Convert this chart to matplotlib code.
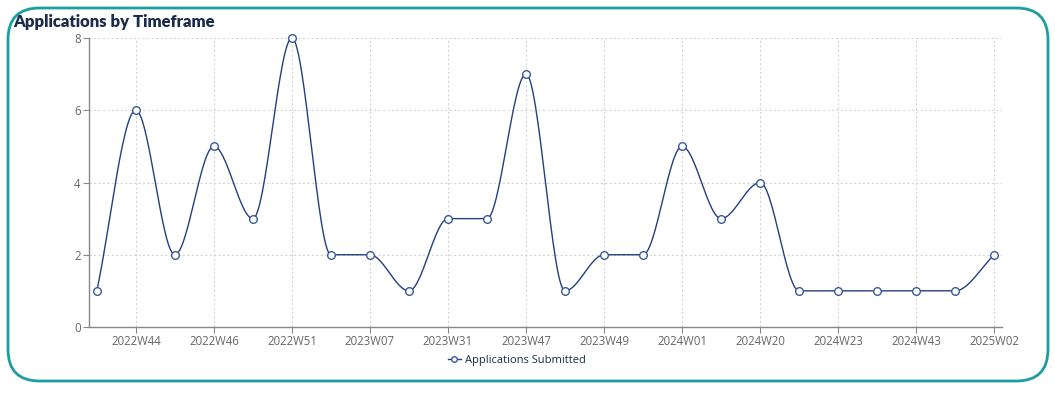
import numpy as np
import matplotlib.pyplot as plt
from matplotlib.patches import FancyBboxPatch

# data
weeks = ["2022W43", "2022W44", "2022W45", "2022W46", "2022W48", "2022W51",
         "2023W01", "2023W07", "2023W14", "2023W31", "2023W40", "2023W47",
         "2023W48", "2023W49", "2023W50", "2024W01", "2024W10", "2024W20",
         "2024W21", "2024W23", "2024W30", "2024W43", "2024W50", "2025W02"]
applications = [1, 6, 2, 5, 3, 8, 2, 2, 1, 3, 3, 7, 1, 2, 2, 5, 3, 4, 1, 1, 1, 1, 1, 2]
shown_ticks = list(range(1, 24, 2))

navy = "#243f80"
marker_edge = "#3a5a9a"
grid_col = "#d4d4d4"
text_col = "#666666"


def monotone_curve(x, y, n=30):
    # monotone cubic (Fritsch-Carlson) for the smooth line
    x = np.asarray(x, float)
    y = np.asarray(y, float)
    h = np.diff(x)
    d = np.diff(y) / h
    m = np.zeros_like(y)
    m[0], m[-1] = d[0], d[-1]
    for k in range(1, len(y) - 1):
        if d[k - 1] * d[k] <= 0:
            m[k] = 0
        else:
            m[k] = 2 / (1 / d[k - 1] + 1 / d[k])
    xs, ys = [], []
    for k in range(len(x) - 1):
        t = np.linspace(0, 1, n)
        h00 = 2 * t**3 - 3 * t**2 + 1
        h10 = t**3 - 2 * t**2 + t
        h01 = -2 * t**3 + 3 * t**2
        h11 = t**3 - t**2
        xs.append(x[k] + t * h[k])
        ys.append(h00 * y[k] + h10 * h[k] * m[k] + h01 * y[k + 1] + h11 * h[k] * m[k + 1])
    return np.concatenate(xs), np.concatenate(ys)


plt.rcParams['font.family'] = ['Open Sans', 'DejaVu Sans']

fig = plt.figure(figsize=(10.55, 3.94), dpi=100)

# rounded frame
frame = FancyBboxPatch((8 / 1055, 13 / 394), 1040 / 1055, 373 / 394,
                       boxstyle="round,pad=0,rounding_size=0.03",
                       transform=fig.transFigure, facecolor="white",
                       edgecolor="#1b9ea0", linewidth=2, mutation_aspect=1055 / 394,
                       zorder=-5)
fig.patches.append(frame)

fig.text(13 / 1055, 1 - 22 / 394, "Applications by Timeframe", fontsize=12,
         fontweight="heavy", color="#1b2b4b", va="center", ha="left",
         family=["Lato", "DejaVu Sans"])

ax = fig.add_axes([89 / 1055, 1 - 327 / 394, 913 / 1055, 289 / 394])
ax.set_facecolor("none")

idx = np.arange(len(applications))
cx, cy = monotone_curve(idx, applications)
ax.plot(cx, cy, color=navy, linewidth=1, clip_on=False)
ax.plot(idx, applications, linestyle="none", marker="o", markersize=5.5,
        markerfacecolor="white", markeredgecolor=marker_edge, markeredgewidth=1,
        clip_on=False, zorder=3)

ax.set_xlim(-0.2, 23.2)
ax.set_ylim(0, 8)
ax.set_yticks([0, 2, 4, 6, 8])
ax.set_xticks(shown_ticks)
ax.set_xticklabels([weeks[i] for i in shown_ticks])

ax.grid(True, color=grid_col, linestyle=(0, (2, 2)), linewidth=0.8)
ax.axvline(23.2, color=grid_col, linestyle=(0, (2, 2)), linewidth=0.8)

for s in ["top", "right"]:
    ax.spines[s].set_visible(False)
for s in ["left", "bottom"]:
    ax.spines[s].set_color("#888888")
    ax.spines[s].set_linewidth(1)

ax.tick_params(axis="both", colors="#888888", labelcolor=text_col, labelsize=8.3,
               length=4, width=0.8)
ax.tick_params(axis="y", pad=2)
ax.tick_params(axis="x", pad=2)

# legend
leg_line, = ax.plot([], [], color=navy, linewidth=1, marker="o", markersize=4,
                    markerfacecolor="white", markeredgecolor=marker_edge)
fig.legend([leg_line], ["Applications Submitted"], loc="center",
           bbox_to_anchor=(517 / 1055, 1 - 360 / 394), frameon=False,
           fontsize=8, labelcolor="#1b2b4b", handlelength=1.2, handletextpad=0.4)

fig.savefig("out.png", dpi=100)
